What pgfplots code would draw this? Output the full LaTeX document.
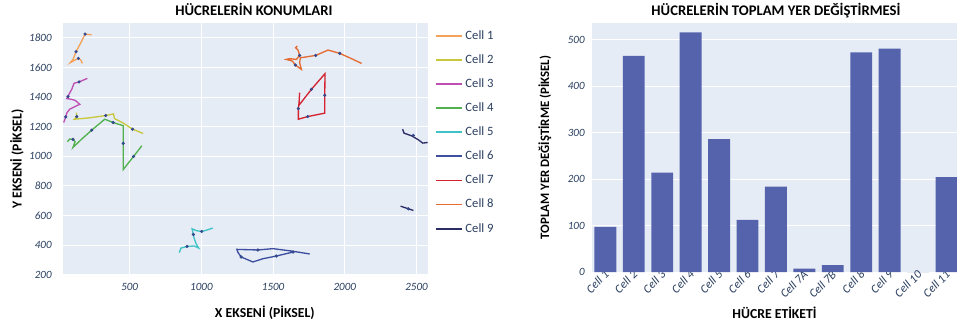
\documentclass[border=0pt]{standalone}
\usepackage{pgfplots}
\pgfplotsset{compat=1.18}
\usepackage{fontspec}
\setmainfont{Carlito}
\definecolor{plotbg}{HTML}{E5ECF6}
\definecolor{tickc}{HTML}{2A3F5F}
\definecolor{cA}{HTML}{F4A25A}
\definecolor{cB}{HTML}{C8C83A}
\definecolor{cC}{HTML}{C04FB4}
\definecolor{cD}{HTML}{52B04E}
\definecolor{cE}{HTML}{3FC3C6}
\definecolor{cF}{HTML}{3E4FA0}
\definecolor{cG}{HTML}{D42230}
\definecolor{cH}{HTML}{E56B33}
\definecolor{cI}{HTML}{2B2D64}
\definecolor{mk}{HTML}{34488C}
\definecolor{barc}{HTML}{5563AD}
\begin{document}
\begin{tikzpicture}
\path[use as bounding box] (0,0) rectangle (717.75pt,243.75pt);
\pgfplotsset{
  every axis title shift=0pt,
  plotlystyle/.style={
    scale only axis,
    axis background/.style={fill=plotbg},
    axis line style={draw=none},
    tick style={draw=none},
    grid=major,
    grid style={white, line width=0.7pt},
    /pgf/number format/assume math mode=true,
    ticklabel style={font=\fontsize{8.3}{9}\selectfont\itshape, text=tickc},
    label style={font=\fontsize{10.3}{12}\selectfont\bfseries, text=black},
    title style={font=\fontsize{11}{12}\selectfont\bfseries, text=black},
  }
}
% ---------------- left: trajectories ----------------
\begin{axis}[plotlystyle,
  at={(47.25pt,37.5pt)}, anchor=south west,
  width=273.75pt, height=189pt,
  xmin=35, xmax=2580, ymin=198, ymax=1900,
  xtick={500,1000,1500,2000,2500},
  ytick={200,400,600,800,1000,1200,1400,1600,1800},
  /pgf/number format/set thousands separator={},
  xticklabel style={yshift=-3pt},
  yticklabel style={xshift=-5pt},
  title={HÜCRELERİN KONUMLARI},
  title style={at={(axis description cs:0.523,1.052)}, anchor=center},
  xlabel={X EKSENİ (PİKSEL)},
  xlabel style={at={(axis description cs:0.553,-0.151)}, anchor=center},
  ylabel={Y EKSENİ (PİKSEL)},
  ylabel style={at={(axis description cs:-0.126,0.46)}, anchor=center, rotate=0},
  legend style={at={(axis description cs:1.015,0.988)}, anchor=north west,
    draw=none, fill=none, font=\fontsize{9.5}{10}\selectfont, text=tickc,
    row sep=6pt, inner sep=1pt},
  legend cell align=left,
  legend image code/.code={\draw[#1, line width=1.3pt] (0pt,0pt) -- (19.5pt,0pt);},
]
\addplot[color=cA, line width=1pt] coordinates {(235,1820) (189,1825) (159,1766) (126,1706) (105,1654) (86,1632) (119,1650) (142,1661) (159,1650) (170,1627)};
\addlegendentry{Cell 1}
\addplot[color=cB, line width=1pt] coordinates {(128,1295) (131,1268) (114,1250) (217,1259) (333,1275) (387,1286) (394,1255) (455,1224) (520,1183) (594,1154)};
\addlegendentry{Cell 2}
\addplot[color=cC, line width=1pt] coordinates {(205,1526) (147,1502) (112,1493) (96,1452) (77,1419) (70,1403) (61,1390) (89,1385) (119,1378) (152,1351) (119,1336) (82,1318) (63,1295) (54,1266) (40,1228)};
\addlegendentry{Cell 3}
\addplot[color=cD, line width=1pt] coordinates {(65,1098) (82,1116) (105,1114) (119,1098) (105,1060) (170,1120) (235,1176) (326,1250) (385,1228) (455,1206) (455,1087) (455,910) (527,999) (585,1071)};
\addlegendentry{Cell 4}
\addplot[color=cE, line width=1pt] coordinates {(846,349) (858,380) (900,391) (951,394) (981,380) (963,409) (949,447) (944,472) (935,510) (967,497) (1002,492) (1037,501) (1079,515)};
\addlegendentry{Cell 5}
\addplot[color=cF, line width=1pt] coordinates {(1755,340) (1627,360) (1499,376) (1394,367) (1247,371) (1256,349) (1277,320) (1359,286) (1429,308) (1522,326) (1639,353) (1643,360)};
\addlegendentry{Cell 6}
\addplot[color=cG, line width=1pt] coordinates {(1685,1430) (1681,1363) (1676,1322) (1676,1250) (1741,1268) (1860,1291) (1860,1412) (1862,1558) (1767,1452) (1681,1345)};
\addlegendentry{Cell 7}
\addplot[color=cH, line width=1pt] coordinates {(1669,1744) (1657,1733) (1674,1717) (1685,1681) (1662,1654) (1615,1659) (1592,1654) (1634,1643) (1655,1616) (1697,1587) (1685,1632) (1690,1665) (1797,1681) (1883,1717) (1965,1695) (2058,1654) (2117,1627)};
\addlegendentry{Cell 8}
\addplot[color=cI, line width=1pt] coordinates {(2403,1183) (2413,1156) (2466,1138) (2513,1111) (2543,1089) (2578,1093)};
\addlegendentry{Cell 9}
\addplot[color=cI, line width=1pt, forget plot] coordinates {(2389,663) (2443,645) (2478,634)};
\addplot[only marks, mark=*, mark size=1pt, color=mk, forget plot] coordinates {
(189,1825) (126,1706) (142,1661)
(131,1268) (333,1275) (520,1183)
(147,1502) (70,1403) (54,1266)
(105,1114) (235,1176) (385,1228) (455,1087) (527,999)
(900,391) (944,472) (1002,492)
(1394,367) (1277,320) (1522,326) (1639,353)
(1676,1322) (1741,1268) (1860,1412) (1767,1452)
(1685,1681) (1655,1616) (1797,1681) (1965,1695)
(2478,1141) (2443,645)};
\end{axis}
% ---------------- right: bars ----------------
\begin{axis}[plotlystyle,
  at={(444pt,39.75pt)}, anchor=south west,
  width=273.75pt, height=186.75pt,
  xmin=-0.47, xmax=12.37, ymin=0, ymax=536,
  xmajorgrids=false,
  xtick=data,
  xticklabels={Cell 1,Cell 2,Cell 3,Cell 4,Cell 5,Cell 6,Cell 7,Cell 7A,Cell 7B,Cell 8,Cell 9,Cell 10,Cell 11},
  xticklabel style={font=\fontsize{9}{9}\selectfont\itshape, rotate=45, anchor=east, xshift=4pt, yshift=-1pt},
  yticklabel style={xshift=-2pt},
  ytick={0,100,200,300,400,500},
  title={HÜCRELERİN TOPLAM YER DEĞİŞTİRMESİ},
  title style={at={(axis description cs:0.504,1.048)}, anchor=center},
  xlabel={HÜCRE ETİKETİ},
  xlabel style={at={(axis description cs:0.5,-0.165)}, anchor=center},
  ylabel={TOPLAM YER DEĞİŞTİRME (PİKSEL)},
  ylabel style={font=\fontsize{9.6}{12}\selectfont\bfseries, at={(axis description cs:-0.129,0.5)}, anchor=center, rotate=0},
]
\addplot[ybar, bar width=0.77, fill=barc, draw=none] coordinates {
(0,97) (1,465) (2,214) (3,516) (4,286) (5,112) (6,184) (7,7) (8,15) (9,473) (10,481) (11,0) (12,204)};
\end{axis}
\end{tikzpicture}
\end{document}
